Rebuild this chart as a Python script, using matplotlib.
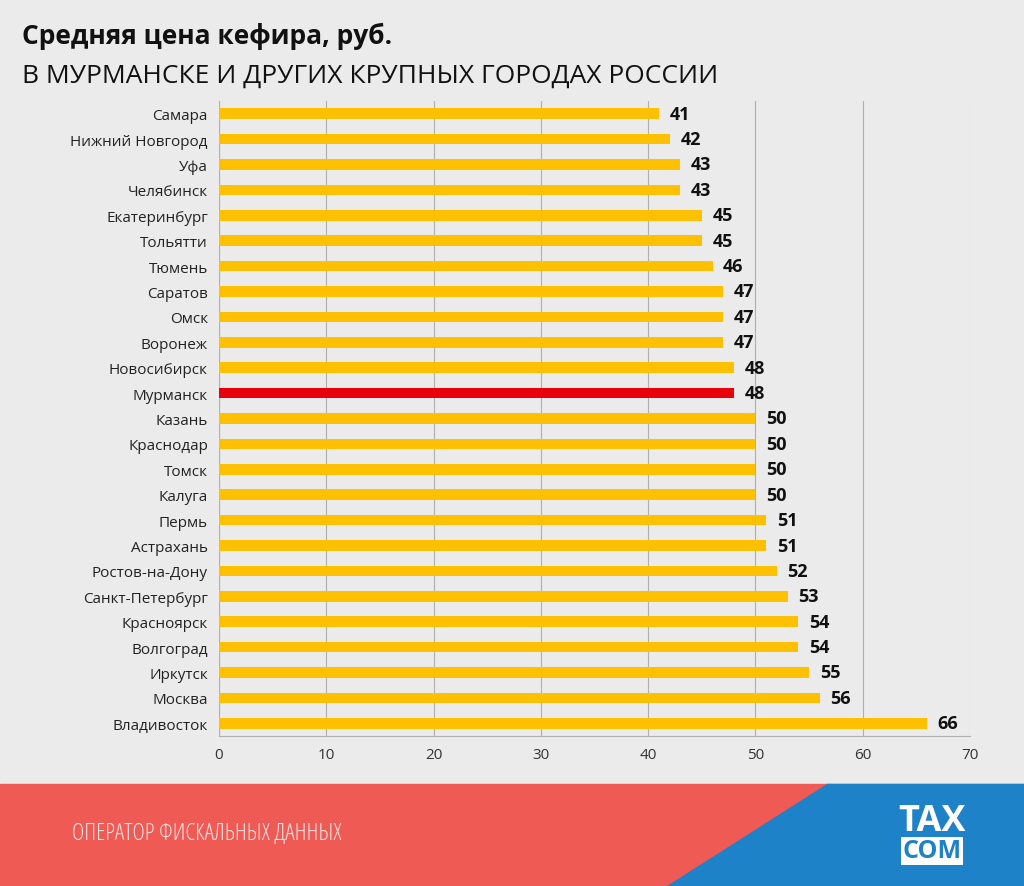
import matplotlib.pyplot as plt
from matplotlib.patches import Polygon, Rectangle

cities = ["Самара", "Нижний Новгород", "Уфа", "Челябинск", "Екатеринбург", "Тольятти",
          "Тюмень", "Саратов", "Омск", "Воронеж", "Новосибирск", "Мурманск", "Казань",
          "Краснодар", "Томск", "Калуга", "Пермь", "Астрахань", "Ростов-на-Дону",
          "Санкт-Петербург", "Красноярск", "Волгоград", "Иркутск", "Москва", "Владивосток"]
prices = [41, 42, 43, 43, 45, 45, 46, 47, 47, 47, 48, 48, 50, 50, 50, 50, 51, 51, 52, 53,
          54, 54, 55, 56, 66]
highlight = "Мурманск"

plt.rcParams['font.family'] = ['Open Sans', 'DejaVu Sans']
fig = plt.figure(figsize=(10.24, 8.87), dpi=100, facecolor='#ebebeb')
ax = fig.add_axes([219/1024, 1-737/887, 751/1024, 635/887])
ax.set_facecolor('none')

colors = ['#e8000b' if c == highlight else '#ffc000' for c in cities]
y = list(range(len(cities)))
ax.barh(y, prices, height=0.42, color=colors, zorder=3)
for yi, v in zip(y, prices):
    ax.text(v + 1, yi, str(v), va='center', ha='left', fontsize=13, fontweight='bold', color='#111')
ax.set_yticks(y)
ax.set_yticklabels(cities, fontsize=11, color='#222')
ax.set_ylim(len(cities) - 0.5, -0.5)
ax.set_xlim(0, 70)
ax.set_xticks(range(0, 71, 10))
ax.tick_params(axis='x', labelsize=11, colors='#333', length=0, pad=8)
ax.tick_params(axis='y', length=0, pad=8)
ax.grid(axis='x', color='#b0b0b0', linewidth=0.8, zorder=0)
for s in ['top', 'right', 'left']:
    ax.spines[s].set_visible(False)
ax.spines['bottom'].set_color('#b0b0b0')
ax.axvline(0, color='#b0b0b0', linewidth=0.8, zorder=1)

fig.text(22/1024, 1-36/887, "Средняя цена кефира, руб.", fontsize=19, fontweight='bold',
         va='center', ha='left', color='#111')
fig.text(22/1024, 1-76/887, "В МУРМАНСКЕ И ДРУГИХ КРУПНЫХ ГОРОДАХ РОССИИ", fontsize=19,
         va='center', ha='left', color='#111')

# footer
fig.patches.append(Rectangle((0, 0), 1, 102/887, transform=fig.transFigure, color='#f05a55', zorder=0))
fig.patches.append(Polygon([(827/1024, 102/887), (1, 102/887), (1, 0), (667/1024, 0)],
                           closed=True, transform=fig.transFigure, color='#1e82c8', zorder=1))
fig.text(72/1024, 1-833/887, "ОПЕРАТОР ФИСКАЛЬНЫХ ДАННЫХ", fontsize=17, color='#fbe3e0',
         va='center', ha='left', fontstretch='condensed')
fig.text(932/1024, 1-822/887, "TAX", fontsize=26, fontweight='bold', color='white', va='center', ha='center')
fig.text(932/1024, 1-852/887, "COM", fontsize=18, fontweight='bold', color='#1e82c8', va='center', ha='center',
         bbox=dict(facecolor='white', edgecolor='none', pad=1))

fig.savefig('out.png', dpi=100, facecolor=fig.get_facecolor())
